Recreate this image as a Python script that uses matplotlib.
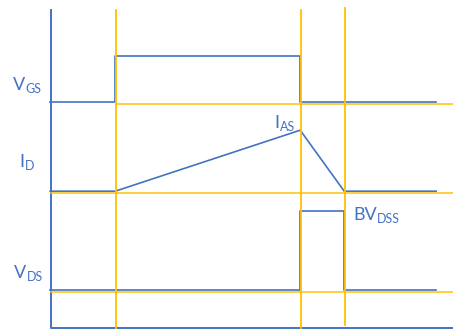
import matplotlib.pyplot as plt

blue = '#4472C4'
gold = '#FFC000'

# waveform corner points (pixel-like units, y grows downward)
vgs_t = [51, 116, 116, 301, 301, 437]
vgs_v = [103, 103, 57, 57, 103, 103]
id_t = [51, 116, 301, 345, 437]
id_v = [192, 192, 131, 192, 192]
vds_t = [51, 301, 301, 345, 345, 437]
vds_v = [291, 291, 212, 212, 291, 291]

# reference guides
guide_x = [116, 301, 345]
guide_top = [10, 10, 8]
guide_bot = [329, 329, 325]
guide_y = [103, 192, 291]
guide_start = [116, 51, 51]

# labels: main text, subscript, x, baseline y
labels = [('V', 'GS', 13, 90),
          ('I', 'D', 19, 167),
          ('V', 'DS', 14, 278),
          ('I', 'AS', 274, 128),
          ('BV', 'DSS', 353, 220)]

fig = plt.figure(figsize=(4.53, 3.29), dpi=100)
ax = fig.add_axes([0, 0, 1, 1])
ax.set_xlim(0, 453)
ax.set_ylim(329, 0)
ax.axis('off')

# frame
ax.plot([51, 51, 453], [10, 328, 328], color=blue, lw=1.4)

# blue traces sit a hair up/left of the gold guides
dx, dy = -0.8, -0.8
ax.plot([t + dx for t in vgs_t], [v + dy for v in vgs_v], color=blue, lw=1.2)
ax.plot([t + dx for t in id_t], [v + dy for v in id_v], color=blue, lw=1.2)
ax.plot([t + dx for t in vds_t], [v + dy for v in vds_v], color=blue, lw=1.2)

for x, y0, y1 in zip(guide_x, guide_top, guide_bot):
    ax.plot([x + 0.4, x + 0.4], [y0, y1], color=gold, lw=1.3)
for y, x0 in zip(guide_y, guide_start):
    ax.plot([x0, 453], [y + 0.5, y + 0.5], color=gold, lw=1.2, alpha=0.9)

fig.canvas.draw()
r = fig.canvas.get_renderer()
inv = ax.transData.inverted()
for main, sub, x, y in labels:
    t = ax.text(x, y, main, color=blue, fontsize=13, family='Lato', va='baseline', ha='left')
    bb = t.get_window_extent(renderer=r)
    xe = inv.transform((bb.x1, bb.y0))[0]
    ax.text(xe + 0.5, y + 3, sub, color=blue, fontsize=9, family='Lato', va='baseline', ha='left')

fig.savefig('out.png', dpi=100)
